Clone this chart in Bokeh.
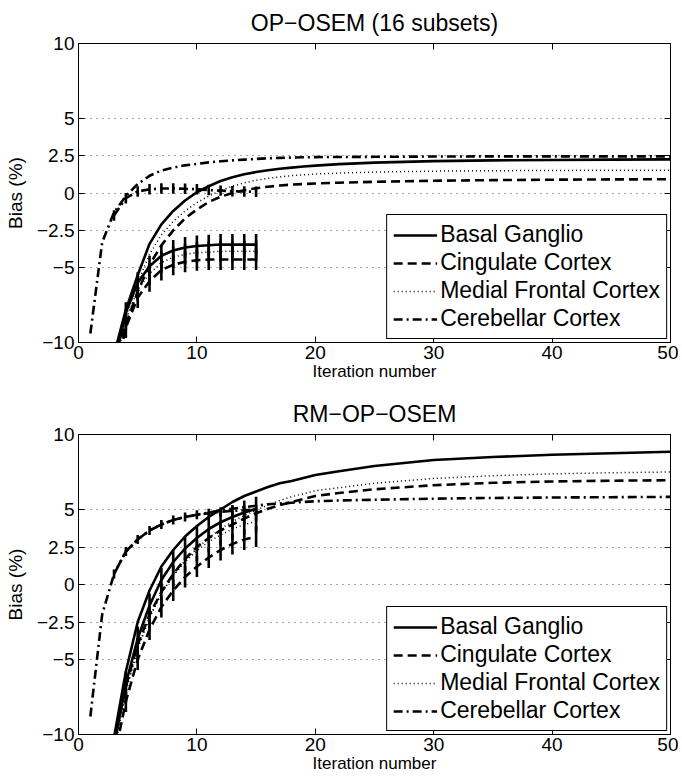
import numpy as np
from bokeh.plotting import figure
from bokeh.layouts import column
from bokeh.models import (ColumnDataSource, Range1d, FixedTicker, LinearAxis,
                          Legend, LegendItem, CustomLabelingPolicy)
from bokeh.embed import file_html
from bokeh.resources import INLINE

# ---------------- data ----------------
series_names = ["Basal Ganglio", "Cingulate Cortex", "Medial Frontal Cortex", "Cerebellar Cortex"]

x_full = [1, 2, 3, 4, 5, 6, 7, 8, 9, 10, 11, 12, 13, 14, 15, 16, 17, 18, 19, 20,
          22, 25, 30, 35, 40, 45, 50]
x_err = [3, 4, 5, 6, 7, 8, 9, 10, 11, 12, 13, 14, 15]

# OP-OSEM (16 subsets)
top_basal = [-30, -18, -10.8, -7.8, -5.5, -3.4, -2.1, -1.2, -0.5, 0.05, 0.45, 0.8, 1.05, 1.25, 1.4,
             1.52, 1.62, 1.7, 1.77, 1.83, 1.93, 2.03, 2.13, 2.18, 2.21, 2.23, 2.25]
top_cing = [-32, -20, -11.5, -8.8, -6.6, -4.8, -3.5, -2.5, -1.7, -1.1, -0.6, -0.25, 0.0, 0.18, 0.32,
            0.42, 0.5, 0.56, 0.6, 0.64, 0.69, 0.75, 0.82, 0.86, 0.89, 0.91, 0.92]
top_medial = [-31, -19, -11.2, -8.3, -6.0, -4.1, -2.8, -1.9, -1.2, -0.65, -0.2, 0.15, 0.45, 0.68, 0.85,
              0.98, 1.08, 1.16, 1.22, 1.27, 1.33, 1.4, 1.46, 1.49, 1.51, 1.52, 1.52]
top_cereb = [-9.4, -3.3, -1.3, -0.2, 0.6, 1.15, 1.5, 1.7, 1.85, 1.95, 2.05, 2.12, 2.18, 2.23, 2.28,
             2.32, 2.35, 2.37, 2.39, 2.4, 2.41, 2.42, 2.44, 2.45, 2.45, 2.45, 2.45]

top_basal_err = [-11.5, -8.0, -6.0, -4.9, -4.2, -3.85, -3.65, -3.55, -3.5, -3.45, -3.45, -3.45, -3.45]
top_cing_err = [-12.5, -9.0, -7.0, -5.9, -5.15, -4.8, -4.6, -4.5, -4.45, -4.45, -4.45, -4.45, -4.45]
top_medial_err = [-12.0, -8.5, -6.5, -5.4, -4.65, -4.3, -4.1, -4.0, -3.95, -3.9, -3.9, -3.9, -3.9]
top_cereb_err = [-1.5, -0.35, 0.1, 0.25, 0.3, 0.3, 0.28, 0.25, 0.2, 0.16, 0.12, 0.1, 0.08]
top_sd = [0.7, 0.7, 0.7, 0.35]

# RM-OP-OSEM
bot_basal = [-28, -17, -10.2, -5.8, -2.5, -0.4, 1.2, 2.3, 3.2, 3.9, 4.5, 5.0, 5.5, 5.9, 6.2,
             6.5, 6.75, 6.9, 7.1, 7.3, 7.55, 7.9, 8.3, 8.5, 8.65, 8.75, 8.85]
bot_cing = [-29, -18, -10.5, -6.8, -4.0, -2.0, -0.5, 0.7, 1.7, 2.5, 3.1, 3.6, 4.0, 4.4, 4.75,
            5.05, 5.3, 5.5, 5.7, 5.9, 6.1, 6.35, 6.62, 6.78, 6.87, 6.92, 6.95]
bot_medial = [-29, -18, -10.8, -7.0, -4.2, -2.2, -0.6, 0.6, 1.6, 2.4, 3.1, 3.7, 4.2, 4.6, 4.95,
              5.3, 5.6, 5.85, 6.05, 6.25, 6.45, 6.75, 7.07, 7.25, 7.38, 7.45, 7.5]
bot_cereb = [-8.8, -2.0, 0.7, 2.2, 3.0, 3.6, 4.0, 4.3, 4.5, 4.65, 4.8, 4.95, 5.05, 5.15, 5.25,
             5.35, 5.4, 5.45, 5.5, 5.55, 5.6, 5.65, 5.72, 5.77, 5.8, 5.82, 5.84]

bot_basal_err = [-10.8, -6.6, -3.6, -1.4, 0.3, 1.5, 2.4, 3.1, 3.7, 4.15, 4.5, 4.8, 5.05]
bot_cing_err = [-11.6, -7.8, -5.0, -3.0, -1.5, -0.4, 0.5, 1.2, 1.8, 2.3, 2.7, 3.0, 3.2]
bot_medial_err = [-11.2, -7.2, -4.3, -2.2, -0.6, 0.6, 1.5, 2.25, 2.85, 3.3, 3.7, 4.0, 4.2]
bot_cereb_err = [0.7, 2.2, 3.0, 3.6, 4.0, 4.3, 4.5, 4.65, 4.75, 4.85, 4.9, 4.95, 5.0]
bot_sd = [0.8, 0.7, 0.7, 0.3]

x_ticks = [0, 10, 20, 30, 40, 50]
y_ticks = [-10, -5, -2.5, 0, 2.5, 5, 10]
y_tick_labels = ["\u221210", "\u22125", "\u22122.5", "0", "2.5", "5", "10"]

# ---------------- styling ----------------
FONT = "Liberation Sans"
styles = [
    dict(line_dash="solid", line_width=2.6),
    dict(line_dash="9 5", line_width=2.6),
    dict(line_dash="1 3", line_width=1.5),
    dict(line_dash="9 4 2 4", line_width=2.6),
]

NO_LABELS = "for (const i of Array.from(indices)) { indices.unset(i) }\nreturn indices"


def make_panel(title, fulls, errs, sds, height, top, bottom):
    p = figure(width=678, height=height, x_range=Range1d(0, 50), y_range=Range1d(-10, 10),
               output_backend="svg", toolbar_location=None,
               min_border_left=78, min_border_right=8,
               min_border_top=top, min_border_bottom=bottom)
    p.title.text = title
    p.title.align = "center"
    p.title.text_font = FONT
    p.title.text_font_size = "23px"
    p.title.text_font_style = "normal"
    p.title.text_color = "black"
    p.title.standoff = 15
    p.outline_line_color = "black"
    p.outline_line_width = 1
    p.outline_line_alpha = 1

    xt = FixedTicker(ticks=x_ticks)
    yt = FixedTicker(ticks=y_ticks)
    overrides = {t: l for t, l in zip(y_ticks, y_tick_labels)}

    for ax in p.xaxis:
        ax.ticker = xt
        ax.axis_label = "Iteration number"
        ax.axis_label_text_font_size = "17px"
        ax.axis_label_standoff = 0
        ax.major_label_standoff = 3
    for ax in p.yaxis:
        ax.ticker = yt
        ax.major_label_overrides = overrides
        ax.axis_label = "Bias (%)"
        ax.axis_label_text_font_size = "19px"
        ax.axis_label_standoff = 8
        ax.major_label_standoff = 4
    for ax in list(p.xaxis) + list(p.yaxis):
        ax.major_label_text_font = FONT
        ax.major_label_text_font_size = "19px"
        ax.axis_label_text_font = FONT
        ax.axis_label_text_font_style = "normal"
        ax.major_tick_in = 6
        ax.major_tick_out = 0
        ax.minor_tick_in = 0
        ax.minor_tick_out = 0
        ax.axis_line_color = "black"
        ax.major_tick_line_color = "black"
        ax.major_label_text_color = "black"
        ax.axis_label_text_color = "black"

    for side, tk in (("above", xt), ("right", yt)):
        ax = LinearAxis(ticker=tk, major_label_text_font_size="0px", major_label_standoff=0,
                        major_label_policy=CustomLabelingPolicy(code=NO_LABELS),
                        major_tick_in=6, major_tick_out=0, minor_tick_in=0, minor_tick_out=0,
                        axis_line_color="black", major_tick_line_color="black")
        p.add_layout(ax, side)

    p.xgrid.visible = False
    p.ygrid.ticker = yt
    p.ygrid.grid_line_color = "black"
    p.ygrid.grid_line_alpha = 0.7
    p.ygrid.grid_line_dash = "1 5"
    p.ygrid.grid_line_width = 1

    items = []
    for name, yv, ye, sd, st in zip(series_names, fulls, errs, sds, styles):
        src = ColumnDataSource(dict(x=x_full, y=yv))
        r = p.line("x", "y", source=src, line_color="black", **st)
        items.append(LegendItem(label=name, renderers=[r]))
        ye = np.array(ye, dtype=float)
        esrc = ColumnDataSource(dict(x=x_err, y=ye, lo=ye - sd, hi=ye + sd))
        p.line("x", "y", source=esrc, line_color="black", **st)
        p.segment(x0="x", y0="lo", x1="x", y1="hi", source=esrc, line_color="black", line_width=2.6)

    legend = Legend(items=items, location="bottom_right")
    legend.label_text_font = FONT
    legend.label_text_font_size = "23px"
    legend.label_text_color = "black"
    legend.glyph_width = 44
    legend.glyph_height = 20
    legend.label_standoff = 3
    legend.spacing = 1
    legend.padding = 6
    legend.margin = 3
    legend.border_line_color = "black"
    legend.border_line_width = 1
    legend.border_line_alpha = 1
    legend.background_fill_alpha = 1
    p.add_layout(legend)
    return p


p1 = make_panel("OP\u2212OSEM (16 subsets)", [top_basal, top_cing, top_medial, top_cereb],
                [top_basal_err, top_cing_err, top_medial_err, top_cereb_err], top_sd, 390, 40, 48)
p2 = make_panel("RM\u2212OP\u2212OSEM", [bot_basal, bot_cing, bot_medial, bot_cereb],
                [bot_basal_err, bot_cing_err, bot_medial_err, bot_cereb_err], bot_sd, 386, 44, 42)

layout = column(p1, p2, spacing=0)
open("out.html", "w").write(file_html(layout, INLINE))
